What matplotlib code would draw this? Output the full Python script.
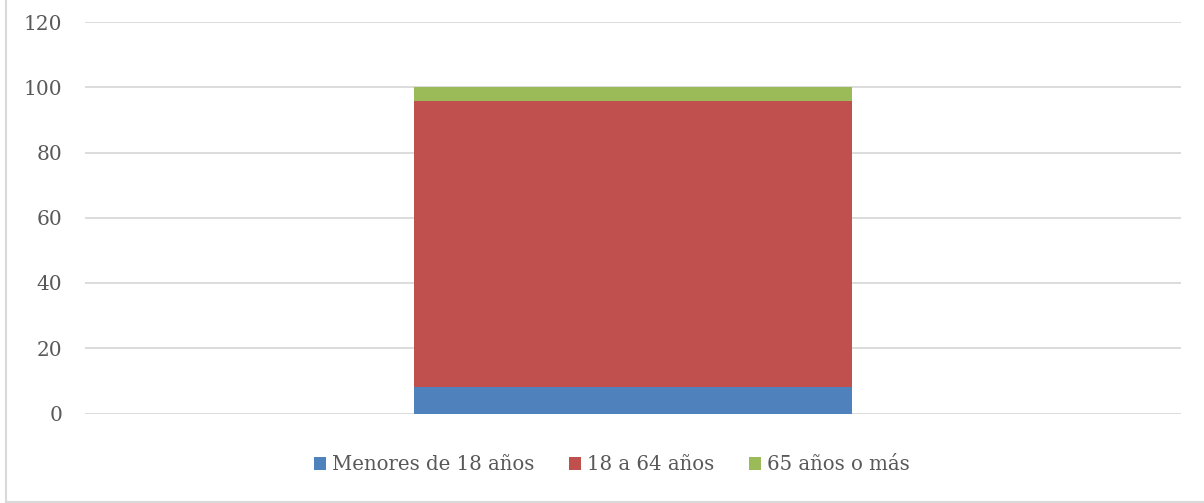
import matplotlib
matplotlib.use("Agg")
import matplotlib.pyplot as plt
from matplotlib.lines import Line2D

categories = [""]
series_names = ["Menores de 18 años", "18 a 64 años", "65 años o más"]
menores = [8.1]
adultos = [87.7]
mayores = [4.2]
colors = ["#4F81BD", "#C0504D", "#9BBB59"]
yticks = [0, 20, 40, 60, 80, 100, 120]

plt.rcParams['font.family'] = ['DejaVu Serif']
text_color = "#595959"

fig = plt.figure(figsize=(12.04, 5.03), dpi=100)
ax = fig.add_axes([85/1204, 89.5/503, 1096/1204, 391.5/503])

x = range(len(categories))
bottom = [0.0] * len(categories)
for name, vals, c in zip(series_names, [menores, adultos, mayores], colors):
    ax.bar(x, vals, width=0.4, bottom=bottom, color=c, label=name, zorder=3)
    bottom = [b + v for b, v in zip(bottom, vals)]

ax.set_xlim(-0.5, 0.5)
ax.set_ylim(0, 120)
ax.set_yticks(yticks)
ax.set_yticklabels([str(t) for t in yticks], fontsize=14.5, color=text_color)
ax.set_xticks([])
ax.tick_params(axis='y', length=0, pad=16.5)
ax.grid(axis='y', color="#D9D9D9", linewidth=1.3, zorder=0)
for s in ax.spines.values():
    s.set_visible(False)

leg = fig.legend(loc='center', bbox_to_anchor=(611.5/1204, 38/503), ncol=3, frameon=False,
                 fontsize=14.2, handlelength=0.62, handleheight=0.62, handletextpad=0.3,
                 columnspacing=1.75, labelcolor=text_color)

fig.add_artist(Line2D([5.5/1204, 5.5/1204], [1.5/503, 1.0], transform=fig.transFigure,
                      color="#D9D9D9", linewidth=1.5))
fig.add_artist(Line2D([5.5/1204, 1.0], [1.5/503, 1.5/503], transform=fig.transFigure,
                      color="#D9D9D9", linewidth=1.5))

fig.savefig("out.png", dpi=100)
